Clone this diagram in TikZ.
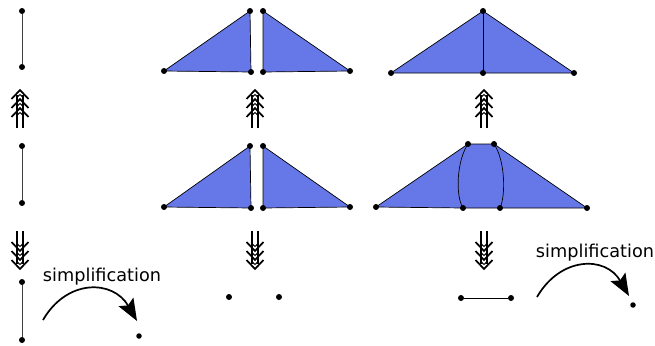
\documentclass[tikz,border=0pt]{standalone}
\usepackage{fontspec}
\setmainfont{DejaVu Sans}
\usetikzlibrary{arrows.meta}
\definecolor{tri}{RGB}{102,120,232}
\tikzset{
  dot/.style={circle,fill=black,inner sep=0pt,minimum size=6pt},
  seg/.style={draw=black!75,line width=0.9pt},
  face/.style={fill=tri,draw=black,line width=0.7pt,line join=round},
  simparc/.style={line width=1.7pt,-{Stealth[length=22pt,width=17pt,inset=4pt]}},
  lbl/.style={font=\fontsize{17.7}{20}\selectfont,anchor=base,inner sep=0pt},
  triplearrow/.pic={
    \draw[line width=1.7pt] (-2.7,38) -- (-2.7,5) (2.7,38) -- (2.7,5);
    \foreach \a in {0,9,18}{
      \draw[line width=1.7pt,line join=miter] (-8.5,\a+9) -- (0,\a) -- (8.5,\a+9);
      \draw[line width=1pt] (-2.7,\a+7) -- (0,\a+4.5) -- (2.7,\a+7);
    }
  }
}
\begin{document}
\begin{tikzpicture}[x=1pt,y=-1pt]
\useasboundingbox (0,0) rectangle (655,345);

% ---------- left column ----------
\node[dot] (l1a) at (22,11) {};
\node[dot] (l1b) at (22,67) {};
\draw[seg] (l1a) -- (l1b);
\node[dot] (l2a) at (22,146) {};
\node[dot] (l2b) at (22,203) {};
\draw[seg] (l2a) -- (l2b);
\node[dot] (l3a) at (22,282) {};
\node[dot] (l3b) at (22,340) {};
\draw[seg] (l3a) -- (l3b);
\pic at (20,90) {triplearrow};
\pic[yscale=-1] at (20,269) {triplearrow};

% ---------- middle column ----------
\coordinate (m1) at (164,71);
\coordinate (m2) at (250,11);
\coordinate (m3) at (251,72);
\coordinate (m4) at (263,11);
\coordinate (m5) at (263,72);
\coordinate (m6) at (350,71);
\filldraw[face] (m1) -- (m2) -- (m3) -- cycle;
\filldraw[face] (m4) -- (m5) -- (m6) -- cycle;
\foreach \p in {m1,m2,m3,m4,m5,m6} \node[dot] (d\p) at (\p) {};

\coordinate (n1) at (164,207);
\coordinate (n2) at (250,146);
\coordinate (n3) at (251,208);
\coordinate (n4) at (263,146);
\coordinate (n5) at (263,208);
\coordinate (n6) at (350,207);
\filldraw[face] (n1) -- (n2) -- (n3) -- cycle;
\filldraw[face] (n4) -- (n5) -- (n6) -- cycle;
\foreach \p in {n1,n2,n3,n4,n5,n6} \node[dot] (d\p) at (\p) {};

\node[dot] (b1) at (229,297) {};
\node[dot] (b2) at (279,297) {};
\pic at (255,90) {triplearrow};
\pic[yscale=-1] at (255,269) {triplearrow};

% ---------- right column ----------
\coordinate (r1) at (391,73);
\coordinate (r2) at (483,11);
\coordinate (r3) at (574,73);
\coordinate (r4) at (483,73);
\filldraw[face] (r1) -- (r2) -- (r3) -- cycle;
\draw[face,fill=none] (r2) -- (r4);
\foreach \p in {r1,r2,r3,r4} \node[dot] (d\p) at (\p) {};

\coordinate (s1) at (376,207);
\coordinate (s2) at (468,144);
\coordinate (s3) at (494,144);
\coordinate (s4) at (587,208);
\coordinate (s5) at (500,208);
\coordinate (s6) at (463,208);
\filldraw[face] (s1) -- (s2) -- (s3) -- (s4) -- (s5) -- (s6) -- cycle;
\draw[face,fill=none] (s2) .. controls (457,160) and (455,195) .. (s6);
\draw[face,fill=none] (s3) .. controls (505,160) and (506,195) .. (s5);
\foreach \p in {s1,s2,s3,s4,s5,s6} \node[dot] (d\p) at (\p) {};

\node[dot] (e1) at (461,298) {};
\node[dot] (e2) at (511,298) {};
\draw[line width=0.9pt] (e1) -- (e2);
\pic at (484,90) {triplearrow};
\pic[yscale=-1] at (484,269) {triplearrow};

% ---------- simplification arrows ----------
\node[lbl] (t1) at (102,281) {simplification};
\coordinate (a1s) at (43,320);
\coordinate (a1e) at (137,321);
\draw[simparc] (a1s) to[out=60,in=120,looseness=1.3] (a1e);
\node[dot,minimum size=5.5pt] (p1) at (139,336) {};

\node[lbl] (t2) at (595,257) {simplification};
\coordinate (a2s) at (537,297);
\coordinate (a2e) at (629,296);
\draw[simparc] (a2s) to[out=60,in=120,looseness=1.3] (a2e);
\node[dot,minimum size=5.5pt] (p2) at (633,305) {};
\end{tikzpicture}
\end{document}
